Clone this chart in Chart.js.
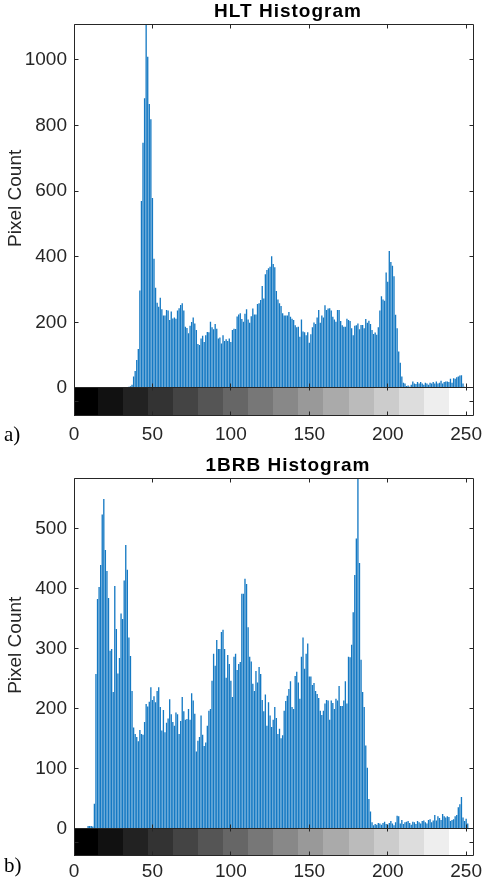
<!DOCTYPE html>
<html>
<head>
<meta charset="utf-8">
<title>HLT / 1BRB histograms</title>
<script src="https://cdn.jsdelivr.net/npm/chart.js@4.4.1/dist/chart.umd.min.js"></script>
<style>
  html, body { margin: 0; padding: 0; background: #fff; }
  #wrap { position: relative; width: 487px; height: 880px; overflow: hidden; }
  #wrap canvas { position: absolute; left: 0; }
  #hltChart { top: 0; }
  #brbChart { top: 448px; }
</style>
</head>
<body>
<div id="wrap">
  <canvas id="hltChart" width="487" height="448"></canvas>
  <canvas id="brbChart" width="487" height="432"></canvas>
</div>
<script>
// pixel count for every gray level 0..255
const hltCounts = [
  0, 0, 0, 0, 0, 0, 0, 0, 0, 0, 0, 0, 0, 0, 0, 0,
  0, 0, 0, 0, 0, 0, 0, 0, 0, 0, 0, 0, 0, 0, 0, 0,
  0, 2, 3, 4, 5, 10, 35, 52, 85, 119, 297, 570, 748, 883, 1150, 1010,
  866, 819, 579, 394, 306, 260, 248, 275, 240, 221, 221, 238, 236, 207, 233, 212,
  215, 211, 236, 243, 253, 258, 236, 187, 183, 167, 190, 201, 215, 197, 177, 134,
  131, 151, 159, 140, 161, 171, 170, 202, 185, 179, 195, 181, 151, 154, 136, 161,
  143, 149, 143, 151, 140, 177, 181, 180, 218, 224, 228, 210, 202, 226, 240, 209,
  199, 219, 242, 224, 224, 256, 258, 268, 311, 273, 347, 360, 365, 370, 402, 378,
  368, 296, 270, 258, 250, 228, 221, 221, 221, 232, 217, 211, 207, 191, 185, 187,
  156, 209, 172, 170, 161, 170, 138, 164, 185, 200, 195, 215, 238, 199, 221, 215,
  252, 238, 242, 243, 236, 217, 209, 202, 238, 238, 204, 191, 187, 187, 211, 207,
  204, 182, 161, 190, 191, 197, 179, 192, 192, 182, 210, 199, 205, 195, 177, 165,
  169, 162, 185, 236, 280, 270, 266, 352, 324, 418, 384, 373, 341, 223, 182, 111,
  77, 35, 16, 14, 6, 8, 4, 10, 20, 14, 12, 18, 14, 18, 14, 10,
  16, 14, 10, 16, 14, 18, 14, 20, 14, 16, 22, 14, 18, 20, 20, 18,
  28, 16, 30, 28, 33, 35, 38, 39, 14, 4, 0, 0, 0, 0, 0, 0
];

const brbCounts = [
  0, 0, 0, 0, 0, 0, 0, 0, 0, 4, 4, 4, 3, 41, 257, 382,
  402, 439, 523, 549, 464, 429, 384, 296, 299, 227, 404, 332, 258, 284, 358, 349,
  413, 472, 431, 318, 287, 229, 168, 157, 152, 145, 164, 157, 156, 177, 207, 203,
  211, 235, 214, 220, 210, 229, 235, 202, 163, 197, 160, 176, 183, 215, 190, 177,
  171, 193, 190, 157, 179, 219, 195, 181, 182, 199, 181, 225, 213, 191, 128, 146,
  152, 188, 156, 137, 143, 171, 196, 199, 246, 291, 271, 314, 299, 299, 327, 331,
  299, 251, 289, 274, 246, 219, 286, 291, 264, 274, 277, 391, 391, 416, 407, 335,
  286, 278, 241, 229, 262, 243, 269, 257, 214, 195, 223, 171, 210, 188, 169, 181,
  202, 184, 157, 166, 150, 155, 196, 212, 221, 232, 245, 202, 199, 254, 261, 243,
  216, 286, 318, 266, 291, 308, 253, 253, 239, 242, 229, 224, 217, 196, 189, 196,
  208, 214, 213, 181, 213, 209, 199, 216, 213, 237, 204, 204, 213, 245, 208, 286,
  285, 306, 360, 422, 483, 620, 442, 281, 227, 202, 138, 101, 49, 28, 10, 5,
  7, 6, 9, 8, 6, 9, 11, 7, 6, 9, 12, 8, 5, 10, 21, 20,
  8, 14, 7, 10, 11, 12, 9, 6, 11, 10, 7, 12, 10, 8, 12, 13,
  10, 8, 14, 15, 10, 13, 22, 13, 20, 17, 14, 24, 20, 18, 20, 19,
  12, 14, 15, 20, 22, 35, 40, 52, 18, 12, 16, 8, 0, 0, 0, 0
];

const xTickValues = [0, 50, 100, 150, 200, 250];
const hltYTicks = [0, 200, 400, 600, 800, 1000];
const brbYTicks = [0, 100, 200, 300, 400, 500];

// the gray colorbar under each histogram: 16 bands of 16 levels
const stripShades = [
  "#000000", "#111111", "#222222", "#333333", "#444444", "#555555", "#666666", "#777777",
  "#888888", "#999999", "#aaaaaa", "#bbbbbb", "#cccccc", "#dddddd", "#eeeeee", "#ffffff"
];

const axisColor = "#262626";
const barBlue = "#1579c3";

Chart.defaults.font.family = '"Liberation Sans", Arial, sans-serif';

const crisp = v => Math.floor(v) + 0.5;

// colorbar strip, axes box, inward ticks and the texts around each panel
const imhistDecor = {
  id: "imhistDecor",
  beforeDatasetsDraw(chart) {
    const { ctx, chartArea: a, scales: { x, y } } = chart;
    const y0 = Math.floor(y.getPixelForValue(0));
    const bottom = Math.floor(a.bottom);
    ctx.save();
    stripShades.forEach((shade, k) => {
      const from = Math.max(k * 16 - 1, x.min);
      const to = Math.min(k * 16 + 15, x.max);
      const l = Math.round(x.getPixelForValue(from));
      const r = Math.round(x.getPixelForValue(to));
      ctx.fillStyle = shade;
      ctx.fillRect(l, y0, r - l, bottom - y0);
    });
    ctx.restore();
  },
  afterDatasetsDraw(chart) {
    const { ctx, chartArea: a, scales: { x, y } } = chart;
    const L = crisp(a.left), R = crisp(a.right - 1);
    const T = crisp(a.top), B = crisp(a.bottom - 1);
    const Z = crisp(y.getPixelForValue(0));
    const tk = 4;
    ctx.save();
    ctx.strokeStyle = axisColor;
    ctx.lineWidth = 1;
    ctx.beginPath();
    ctx.rect(L, T, R - L, B - T);
    ctx.moveTo(L, Z); ctx.lineTo(R, Z);
    xTickValues.forEach(v => {
      const px = crisp(x.getPixelForValue(v));
      ctx.moveTo(px, T); ctx.lineTo(px, T + tk);
      ctx.moveTo(px, Z - tk); ctx.lineTo(px, Z + tk - 1);
      ctx.moveTo(px, B); ctx.lineTo(px, B - tk);
    });
    y.ticks.forEach(t => {
      const py = crisp(y.getPixelForValue(t.value));
      ctx.moveTo(L, py); ctx.lineTo(L + tk, py);
      ctx.moveTo(R, py); ctx.lineTo(R - tk, py);
    });
    const mid = crisp((Z + B) / 2);
    ctx.moveTo(L, mid); ctx.lineTo(L + tk, mid);
    ctx.moveTo(R, mid); ctx.lineTo(R - tk, mid);
    ctx.stroke();
    ctx.restore();
  },
  afterDraw(chart, args, opts) {
    const { ctx, chartArea: a, scales: { y } } = chart;
    const Z = y.getPixelForValue(0);
    ctx.save();
    ctx.fillStyle = "#000";
    ctx.textAlign = "center";
    ctx.textBaseline = "middle";
    ctx.font = 'bold 19px "Liberation Sans", Arial, sans-serif';
    ctx.letterSpacing = "1px";
    ctx.fillText(opts.title, (a.left + a.right) / 2 + 14, a.top - 13);
    ctx.letterSpacing = "0px";

    ctx.save();
    ctx.translate(16, (a.top + Z) / 2 - 8);
    ctx.rotate(-Math.PI / 2);
    ctx.fillStyle = axisColor;
    ctx.font = '19px "Liberation Sans", Arial, sans-serif';
    ctx.fillText("Pixel Count", 0, 0);
    ctx.restore();

    ctx.textAlign = "left";
    ctx.font = '21px "Liberation Serif", "Times New Roman", serif';
    ctx.fillText(opts.tag, 4, opts.tagY);
    ctx.restore();
  }
};

function histogramChart(canvasId, counts, yTicks, cfg) {
  return new Chart(document.getElementById(canvasId), {
    type: "bar",
    data: {
      datasets: [{
        data: counts.map((c, level) => ({ x: level, y: c })),
        backgroundColor: barBlue,
        borderWidth: 0,
        barPercentage: 0.85,
        categoryPercentage: 1
      }]
    },
    options: {
      responsive: false,
      animation: false,
      events: [],
      layout: { padding: { top: cfg.top, right: 13, left: 0, bottom: 0 } },
      scales: {
        x: {
          type: "linear",
          offset: false,
          min: 0,
          max: 255,
          grid: { display: false, drawTicks: false, offset: false },
          border: { display: false },
          ticks: {
            padding: cfg.xPad,
            color: axisColor,
            font: { size: 19 },
            autoSkip: false,
            maxRotation: 0,
            callback: v => String(v)
          },
          afterBuildTicks: s => { s.ticks = xTickValues.map(v => ({ value: v })); },
          afterFit: s => {
            s.height = cfg.height - cfg.bottom;
            s.paddingLeft = 0;
            s.paddingRight = 0;
          }
        },
        y: {
          min: cfg.yMin,
          max: cfg.yMax,
          grid: { display: false, drawTicks: false },
          border: { display: false },
          ticks: {
            padding: 7,
            color: axisColor,
            font: { size: 19 },
            autoSkip: false,
            callback: v => String(v)
          },
          afterBuildTicks: s => { s.ticks = yTicks.map(v => ({ value: v })); },
          afterFit: s => {
            s.width = 74;
            s.paddingTop = 0;
            s.paddingBottom = 0;
          }
        }
      },
      plugins: {
        legend: { display: false },
        tooltip: { enabled: false },
        imhistDecor: { title: cfg.title, tag: cfg.tag, tagY: cfg.tagY }
      }
    },
    plugins: [imhistDecor]
  });
}

histogramChart("hltChart", hltCounts, hltYTicks, {
  title: "HLT Histogram", tag: "a)", tagY: 435,
  height: 448, top: 24.7, bottom: 416.7, yMin: -87.5, yMax: 1107.6, xPad: 7
});

histogramChart("brbChart", brbCounts, brbYTicks, {
  title: "1BRB Histogram", tag: "b)", tagY: 418,
  height: 432, top: 30.3, bottom: 408, yMin: -46.2, yMax: 583.3, xPad: 4
});
</script>
</body>
</html>
